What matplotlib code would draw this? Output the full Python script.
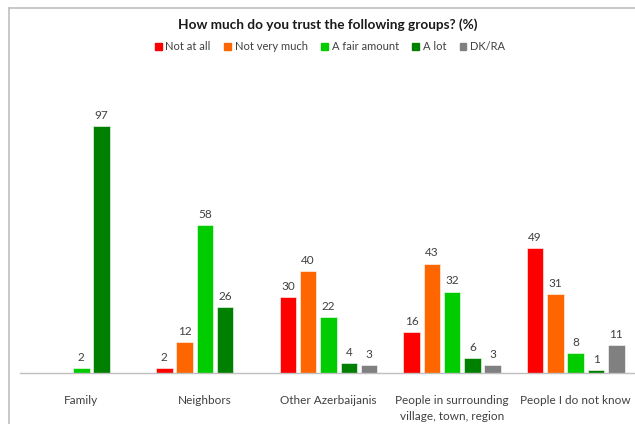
import matplotlib
matplotlib.use("Agg")
import matplotlib.pyplot as plt
import numpy as np
from matplotlib.lines import Line2D

categories = ["Family", "Neighbors", "Other Azerbaijanis",
              "People in surrounding\nvillage, town, region", "People I do not know"]
series = ["Not at all", "Not very much", "A fair amount", "A lot", "DK/RA"]
not_at_all = [np.nan, 2, 30, 16, 49]
not_very_much = [np.nan, 12, 40, 43, 31]
fair_amount = [2, 58, 22, 32, 8]
a_lot = [97, 26, 4, 6, 1]
dk_ra = [np.nan, np.nan, 3, 3, 11]
colors = ["#ff0000", "#ff6600", "#00cc00", "#008000", "#808080"]

values = [not_at_all, not_very_much, fair_amount, a_lot, dk_ra]

plt.rcParams['font.family'] = ['Lato', 'DejaVu Sans']
fig = plt.figure(figsize=(6.35, 4.24), dpi=100)
W, H = 635, 424
ax = fig.add_axes([19.5 / W, (H - 373) / H, 618 / W, 308 / H])

x = np.arange(len(categories))
step = 20.3 / 123.5
bw = 16.5 / 123.5
for i, (vals, c, name) in enumerate(zip(values, colors, series)):
    pos = x + (i - 2) * step
    v = np.array(vals, dtype=float)
    bars = ax.bar(pos, np.nan_to_num(v), width=bw, color=c, label=name,
                  edgecolor='white', linewidth=0.4)
    for p, val in zip(pos, v):
        if not np.isnan(val):
            ax.text(p, val + 2.0, f"{int(val)}", ha='center', va='bottom',
                    fontsize=8.5, color='#404040')
    for b, val in zip(bars, v):
        if np.isnan(val):
            b.set_visible(False)

ax.set_xlim(-0.5, len(categories) - 0.5)
ax.set_ylim(0, 121)
ax.set_yticks([])
ax.set_xticks(x)
ax.set_xticklabels(categories, fontsize=8.5, color='#404040', linespacing=1.55)
ax.tick_params(axis='x', length=0, pad=16)
for s in ['top', 'right', 'left']:
    ax.spines[s].set_visible(False)
ax.spines['bottom'].set_color('#bfbfbf')
ax.spines['bottom'].set_linewidth(1)

fig.text(328 / W, 1 - 25 / H, "How much do you trust the following groups? (%)",
         ha='center', va='center', fontsize=9.8, fontweight='bold', color='#1a1a1a')

handles = [plt.Rectangle((0, 0), 1, 1, color=c) for c in colors]
fig.legend(handles, series, loc='center', bbox_to_anchor=(330 / W, 1 - 47 / H),
           ncol=5, frameon=False, fontsize=8, handlelength=0.6, handleheight=0.6,
           handletextpad=0.35, columnspacing=1.2, labelcolor='#404040')

fig.add_artist(Line2D([8.5 / W, 1], [1 - 8 / H, 1 - 8 / H], transform=fig.transFigure,
                      color='#bfbfbf', linewidth=1.2))
fig.add_artist(Line2D([8.5 / W, 8.5 / W], [0, 1 - 8 / H], transform=fig.transFigure,
                      color='#bfbfbf', linewidth=1.2))

fig.savefig("out.png", dpi=100)
